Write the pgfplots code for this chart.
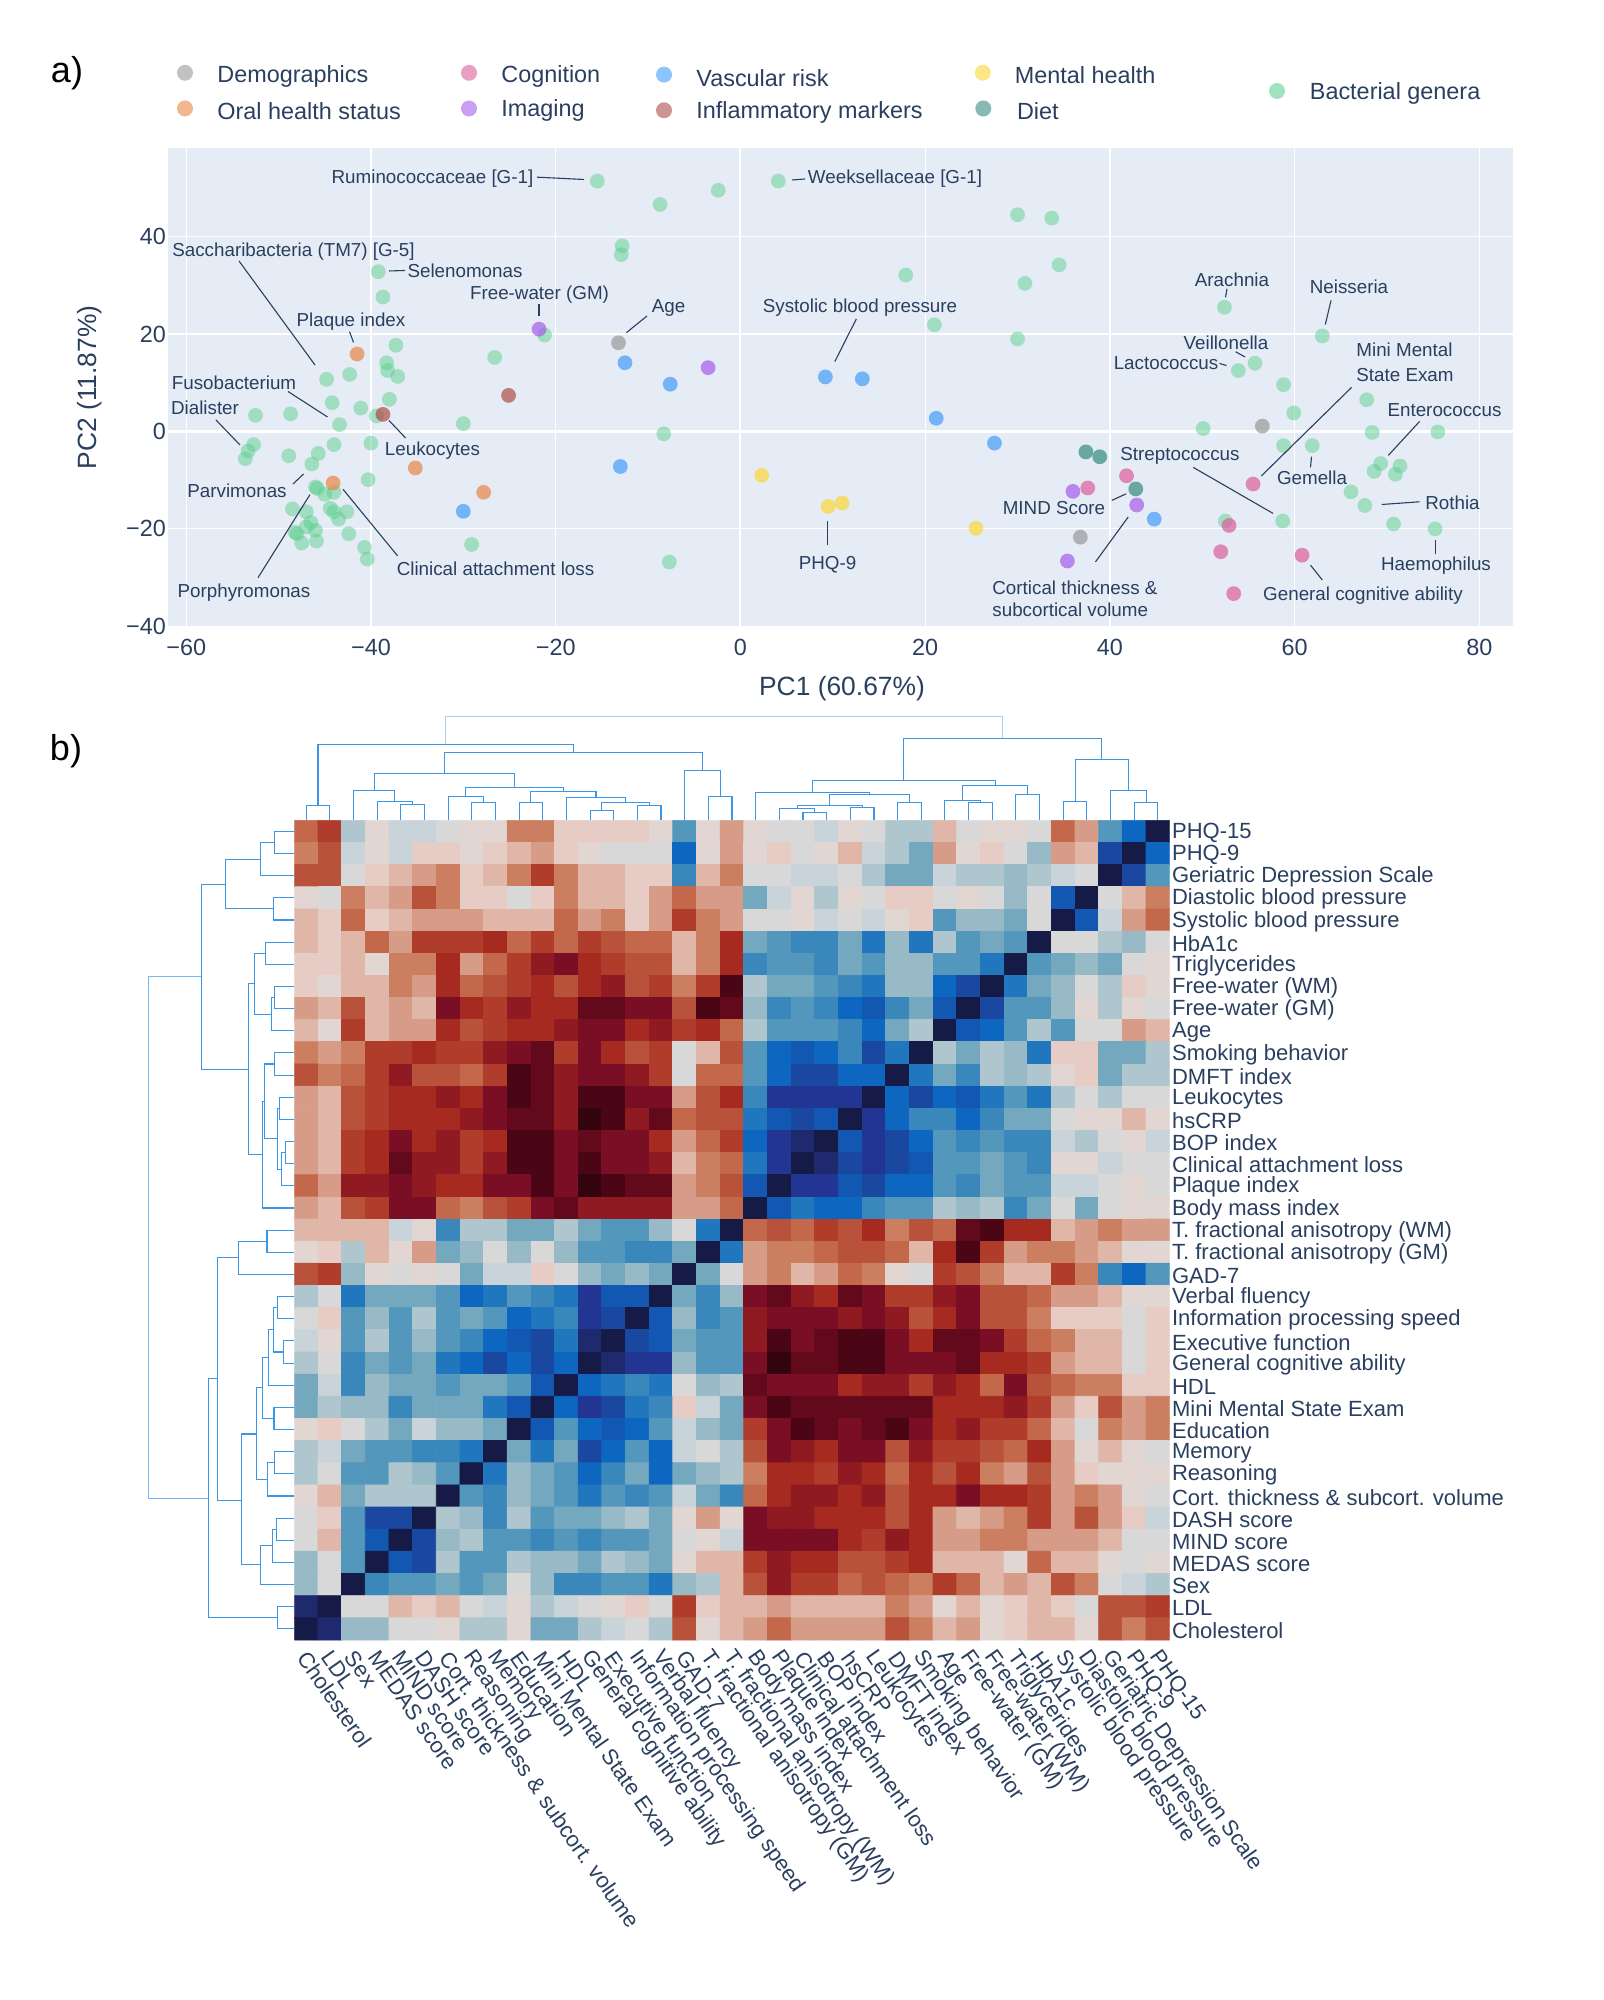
\documentclass[border=0pt]{standalone}
\usepackage{pgfplots}
\pgfplotsset{compat=1.18}
\usepackage{fontspec}
\setmainfont{Liberation Sans}

\definecolor{ink}{HTML}{2A3F5F}
\definecolor{plotbg}{HTML}{E5ECF6}
\definecolor{dendblue}{HTML}{3C96E8}
\definecolor{cGrey}{HTML}{999999}
\definecolor{cOral}{HTML}{E98647}
\definecolor{cCog}{HTML}{DD5D9D}
\definecolor{cImg}{HTML}{A65DEA}
\definecolor{cVasc}{HTML}{439DFB}
\definecolor{cInfl}{HTML}{AE4D48}
\definecolor{cMent}{HTML}{FBD636}
\definecolor{cDiet}{HTML}{358C7E}
\definecolor{cBact}{HTML}{5DD08E}

\newcommand\annofont{\fontsize{9.4}{11.5}\selectfont}
\newcommand\legfont{\fontsize{11.7}{14}\selectfont}
\newcommand\hmfont{\fontsize{11}{13}\selectfont}

% levels -14 (darkest red) .. 13 (navy, diagonal)
\pgfplotsset{colormap={bal}{
rgb255=(52,4,14) rgb255=(74,6,20) rgb255=(98,10,28) rgb255=(122,14,36)
rgb255=(144,26,34) rgb255=(166,42,32) rgb255=(176,60,44) rgb255=(185,82,58)
rgb255=(195,104,74) rgb255=(204,126,96) rgb255=(214,156,136) rgb255=(223,182,168)
rgb255=(230,204,196) rgb255=(226,214,210) rgb255=(216,216,216) rgb255=(200,212,217)
rgb255=(175,198,206) rgb255=(152,185,198) rgb255=(116,168,191) rgb255=(84,151,188)
rgb255=(58,135,187) rgb255=(33,119,189) rgb255=(13,102,191) rgb255=(18,88,179)
rgb255=(26,71,159) rgb255=(35,53,147) rgb255=(31,42,110) rgb255=(21,26,71)}}

\pgfplotsset{
  dend/.style={no marks, color=dendblue, line width=.55pt, forget plot},
  pts/.style={only marks, mark=*, mark size=3.7pt, forget plot,
    mark options={draw opacity=0, fill=#1, fill opacity=.7}},
  legpt/.style={only marks, mark=*, mark size=4pt, forget plot,
    mark options={draw opacity=0, fill=#1, fill opacity=.6}},
  leader/.style={no marks, color=ink, line width=.55pt, forget plot},
}
% top dendrogram: leg x, leg foot, bar height, leg x, leg foot
\newcommand\toplink[5]{\addplot[dend] coordinates {(#1,#2)(#1,#3)(#4,#3)(#4,#5)};}
% left dendrogram: foot x, row, bar x, row, foot x
\newcommand\leftlink[5]{\addplot[dend] coordinates {(#1,#2)(#3,#2)(#3,#4)(#5,#4)};}
\newcommand\lead[4]{\addplot[leader] coordinates {(#1,#2)(#3,#4)};}
\newcommand\ann[3]{\node[font=\annofont,text=ink,inner sep=0pt,yshift=-.8pt] at (axis cs:#1,#2) {#3};}
\newcommand\annl[3]{\node[font=\annofont,text=ink,inner sep=0pt,anchor=west,yshift=-.8pt] at (axis cs:#1,#2) {#3};}
\newcommand\legt[3]{\node[font=\legfont,text=ink,inner sep=0pt,anchor=west,yshift=-.6pt] at (axis cs:#1,#2) {#3};}

\begin{document}
\begin{tikzpicture}
\useasboundingbox (0,0) rectangle (801.5pt,1000pt);

% a) scatter
\begin{axis}[
  at={(84pt,686.85pt)}, anchor=south west, scale only axis,
  width=672.5pt, height=239.15pt,
  xmin=-61.97, xmax=83.64, ymin=-40, ymax=58.2,
  axis background/.style={fill=plotbg},
  axis line style={draw=none}, tick style={draw=none},
  grid=major, grid style={white, line width=.6pt},
  xtick={-60,-40,-20,0,20,40,60,80},
  xticklabels={−60,−40,−20,0,20,40,60,80},
  ytick={-40,-20,0,20,40},
  yticklabels={−40,−20,0,20,40},
  tick label style={font=\legfont, text=ink},
  xticklabel style={yshift=-3pt},
  yticklabel style={xshift=2.5pt},
  clip=false,
]
\addplot[white, line width=1.3pt, no marks, forget plot] coordinates {(-61.97,0)(83.64,0)};
\addplot[white, line width=1pt, no marks, forget plot] coordinates {(0,-40)(0,58.2)};
\addplot[only marks, mark=*, mark size=3.7pt, forget plot,
  mark options={draw opacity=0, fill=cBact, fill opacity=.5}] coordinates {
(-15.5,51.4)(-8.7,46.6)(-2.4,49.5)(4.1,51.4)(-12.8,38.1)(-12.9,36.3)(-39.2,32.8)(-38.7,27.6)
(-21.2,19.8)(-37.3,17.7)(-26.6,15.2)(-38.3,14.1)(-42.3,11.7)(-38.2,12.5)(-37.1,11.3)(-44.8,10.7)
(-38,6.6)(-44.2,5.9)(-41.1,4.8)(-39.4,3.2)(-52.5,3.3)(-48.7,3.6)(-30,1.6)(-43.4,1.4)(-8.3,-0.5)
(-44,-2.7)(-40,-2.4)(-52.7,-2.7)(-53.3,-4)(-53.6,-5.6)(-48.9,-5)(-45.7,-4.5)(-46.4,-6.7)
(-40.3,-9.9)(-46,-11.4)(-45.8,-11.7)(-45,-12.9)(-44,-12.5)(-48.5,-15.9)(-47,-16.5)(-44.4,-15.8)
(-44,-16.5)(-42.6,-16.5)(-43.5,-18)(-46.5,-18.7)(-47,-19.6)(-46,-20.3)(-48.2,-20.7)(-48,-21)
(-42.4,-21)(-47.5,-22.9)(-45.9,-22.5)(-40.7,-23.8)(-40.4,-26.2)(-29.1,-23.2)(-7.7,-26.8)
(30,44.5)(33.7,43.8)(34.5,34.2)(17.9,32.1)(30.8,30.4)(21,21.9)(30,19)(52.4,25.5)(63,19.6)
(55.7,14)(53.9,12.5)(58.8,9.6)(67.8,6.5)(59.9,3.8)(50.1,0.6)(68.4,-0.2)(75.5,-0.1)(58.8,-2.9)
(61.9,-2.9)(69.3,-6.6)(71.4,-7.1)(68.6,-8.2)(70.9,-8.8)(66.1,-12.4)(67.6,-15.2)(52.5,-18.4)
(58.7,-18.4)(70.7,-19)(75.2,-20)};
\addplot[pts=cGrey] coordinates {(-13.2,18.2)(56.5,1.1)(36.8,-21.7)};
\addplot[pts=cOral] coordinates {(-41.5,15.9)(-44.1,-10.6)(-35.2,-7.5)(-27.8,-12.5)};
\addplot[pts=cImg] coordinates {(-21.8,21)(-3.5,13.1)(36,-12.3)(42.9,-15.1)(35.4,-26.6)};
\addplot[pts=cVasc] coordinates {(-12.5,14.1)(-7.6,9.7)(-13,-7.2)(-30,-16.4)(9.2,11.2)(13.2,10.8)(21.2,2.7)(27.5,-2.4)(44.8,-18)};
\addplot[pts=cCog] coordinates {(41.8,-9.1)(37.6,-11.6)(55.5,-10.8)(52.9,-19.3)(52,-24.7)(60.8,-25.4)(53.4,-33.3)};
\addplot[pts=cMent] coordinates {(2.3,-9)(9.5,-15.4)(11,-14.7)(25.5,-19.9)};
\addplot[pts=cDiet] coordinates {(37.4,-4.2)(38.9,-5.2)(42.8,-11.8)};
\addplot[pts=cInfl] coordinates {(-38.7,3.5)(-25.1,7.4)};
\end{axis}

% b) heatmap
\begin{axis}[
  at={(147.15pt,180pt)}, anchor=south west, scale only axis,
  width=437.7pt, height=409.85pt,
  xmin=-.5, xmax=36.5, ymin=-.5, ymax=36.5, y dir=reverse,
  axis line style={draw=none}, tick style={draw=none},
  enlargelimits=false,
  xtick={0,...,36}, ytick={0,...,36},
  xticklabels={Cholesterol,LDL,Sex,MEDAS score,MIND score,DASH score,Cort. thickness \& subcort. volume,Reasoning,Memory,Education,Mini Mental State Exam,HDL,General cognitive ability,Executive function,Information processing speed,Verbal fluency,GAD-7,T. fractional anisotropy (GM),T. fractional anisotropy (WM),Body mass index,Plaque index,Clinical attachment loss,BOP index,hsCRP,Leukocytes,DMFT index,Smoking behavior,Age,Free-water (GM),Free-water (WM),Triglycerides,HbA1c,Systolic blood pressure,Diastolic blood pressure,Geriatric Depression Scale,PHQ-9,PHQ-15},
  yticklabels={PHQ-15,PHQ-9,Geriatric Depression Scale,Diastolic blood pressure,Systolic blood pressure,HbA1c,Triglycerides,Free-water (WM),Free-water (GM),Age,Smoking behavior,DMFT index,Leukocytes,hsCRP,BOP index,Clinical attachment loss,Plaque index,Body mass index,T. fractional anisotropy (WM),T. fractional anisotropy (GM),GAD-7,Verbal fluency,Information processing speed,Executive function,General cognitive ability,HDL,Mini Mental State Exam,Education,Memory,Reasoning,Cort. thickness \& subcort. volume,DASH score,MIND score,MEDAS score,Sex,LDL,Cholesterol},
  xticklabel pos=lower, yticklabel pos=right,
  tick label style={font=\hmfont, text=ink},
  xticklabel style={rotate=-55, anchor=west, inner sep=0pt, yshift=-5.3pt, xshift=4.4pt},
  yticklabel style={anchor=west, inner sep=0pt, xshift=1pt, yshift=-.7pt},
  colormap name=bal, point meta min=-14, point meta max=13,
]
\addplot[matrix plot*, mesh/cols=37, point meta=explicit]
  table[x expr={\coordindex-37*floor((\coordindex+0.5)/37)}, y expr={floor((\coordindex+0.5)/37)}, meta index=0, header=false, row sep=\\] {
-6\\-8\\2\\-1\\1\\1\\0\\-1\\-1\\-5\\-5\\-2\\-2\\-2\\-2\\-1\\5\\-1\\-4\\-1\\0\\0\\1\\-1\\0\\2\\2\\-3\\0\\-1\\-1\\0\\-6\\-4\\5\\8\\13\\
-5\\-7\\1\\-1\\1\\-2\\-2\\-1\\-2\\-3\\-4\\-2\\-1\\0\\0\\0\\8\\-1\\-4\\-1\\-2\\0\\-1\\-3\\1\\2\\4\\-4\\-1\\-2\\0\\3\\-4\\-3\\10\\13\\8\\
-7\\-7\\0\\-2\\-3\\-4\\-5\\-2\\-3\\-5\\-8\\-5\\-3\\-3\\-2\\-2\\6\\-3\\-5\\0\\0\\1\\1\\0\\2\\4\\4\\1\\2\\2\\3\\2\\1\\0\\13\\10\\5\\
-1\\0\\-5\\-3\\-4\\-7\\-5\\-2\\-2\\0\\-2\\-5\\-3\\-3\\-2\\-4\\-6\\-4\\-4\\4\\1\\-1\\2\\-1\\0\\-2\\-2\\0\\-1\\0\\3\\0\\9\\13\\0\\-3\\-5\\
-3\\-2\\-6\\-2\\-3\\-4\\-4\\-4\\-3\\-3\\-3\\-6\\-4\\-5\\-2\\-4\\-8\\-5\\-4\\0\\0\\-1\\1\\0\\1\\-1\\-2\\5\\3\\3\\4\\0\\13\\9\\1\\-4\\-6\\
-3\\-2\\-3\\-6\\-4\\-8\\-8\\-8\\-9\\-6\\-8\\-6\\-8\\-7\\-6\\-6\\-3\\-5\\-9\\4\\5\\6\\6\\4\\7\\3\\7\\2\\5\\4\\5\\13\\0\\0\\2\\3\\0\\
-2\\-2\\-3\\-1\\-5\\-5\\-9\\-4\\-6\\-8\\-10\\-11\\-9\\-8\\-7\\-7\\-3\\-5\\-9\\6\\5\\5\\6\\4\\5\\3\\3\\5\\5\\7\\13\\5\\4\\3\\4\\0\\-1\\
-2\\-1\\-3\\-3\\-5\\-4\\-9\\-6\\-7\\-8\\-9\\-7\\-9\\-10\\-7\\-8\\-5\\-8\\-13\\2\\4\\4\\5\\6\\7\\3\\3\\8\\10\\13\\7\\4\\3\\0\\2\\-2\\-1\\
-4\\-3\\-7\\-3\\-4\\-3\\-11\\-9\\-8\\-10\\-9\\-9\\-12\\-12\\-11\\-11\\-7\\-13\\-12\\3\\6\\5\\6\\8\\9\\6\\4\\9\\13\\10\\5\\5\\3\\-1\\2\\-1\\0\\
-3\\-1\\-8\\-3\\-4\\-4\\-9\\-7\\-8\\-9\\-9\\-10\\-11\\-11\\-9\\-10\\-8\\-9\\-6\\2\\5\\5\\5\\6\\8\\4\\2\\13\\9\\8\\5\\2\\5\\0\\0\\-4\\-3\\
-5\\-4\\-5\\-8\\-8\\-9\\-8\\-8\\-10\\-11\\-12\\-8\\-11\\-9\\-7\\-8\\0\\-3\\-7\\5\\8\\9\\8\\6\\10\\7\\13\\2\\4\\2\\3\\7\\-2\\-2\\4\\4\\2\\
-7\\-5\\-6\\-8\\-10\\-7\\-7\\-6\\-8\\-13\\-12\\-10\\-11\\-11\\-10\\-8\\0\\-6\\-6\\5\\8\\10\\10\\8\\8\\13\\7\\4\\6\\2\\3\\2\\-1\\-2\\4\\2\\2\\
-4\\-3\\-7\\-8\\-9\\-9\\-10\\-9\\-11\\-13\\-12\\-10\\-13\\-13\\-11\\-11\\-4\\-7\\-9\\6\\11\\11\\11\\11\\13\\8\\10\\8\\9\\7\\5\\7\\2\\0\\2\\0\\0\\
-4\\-3\\-7\\-8\\-9\\-9\\-9\\-10\\-11\\-12\\-12\\-10\\-14\\-13\\-10\\-12\\-6\\-7\\-7\\7\\9\\10\\9\\13\\11\\8\\6\\6\\8\\6\\4\\4\\0\\-1\\-1\\-3\\-1\\
-4\\-3\\-8\\-9\\-11\\-9\\-10\\-8\\-9\\-13\\-13\\-11\\-12\\-11\\-11\\-9\\-4\\-6\\-8\\8\\11\\12\\13\\9\\11\\10\\8\\5\\6\\5\\6\\6\\1\\2\\0\\-1\\1\\
-4\\-3\\-8\\-9\\-12\\-10\\-10\\-8\\-10\\-13\\-13\\-11\\-13\\-11\\-11\\-10\\-3\\-5\\-6\\7\\11\\13\\12\\10\\11\\10\\9\\5\\5\\4\\5\\6\\-1\\-1\\1\\0\\0\\
-6\\-4\\-10\\-10\\-11\\-10\\-9\\-9\\-11\\-11\\-13\\-11\\-14\\-13\\-12\\-12\\-4\\-5\\-7\\9\\13\\11\\11\\9\\10\\8\\8\\5\\6\\4\\5\\5\\1\\1\\0\\-1\\0\\
-4\\-3\\-7\\-8\\-11\\-11\\-6\\-5\\-7\\-8\\-11\\-12\\-10\\-10\\-10\\-10\\-4\\-4\\-6\\13\\9\\7\\8\\8\\6\\5\\5\\2\\3\\2\\6\\4\\0\\4\\0\\-1\\-1\\
-3\\-3\\-3\\-3\\1\\-1\\6\\2\\2\\4\\4\\2\\4\\5\\5\\3\\0\\7\\13\\-6\\-7\\-6\\-8\\-7\\-9\\-5\\-7\\-6\\-12\\-13\\-9\\-9\\-3\\-4\\-5\\-4\\-4\\
-1\\-2\\2\\-3\\-1\\-4\\4\\3\\0\\3\\0\\3\\5\\5\\6\\6\\4\\13\\7\\-4\\-5\\-5\\-6\\-7\\-7\\-6\\-3\\-9\\-13\\-8\\-4\\-5\\-5\\-4\\-3\\-1\\-1\\
-7\\-8\\3\\-1\\0\\-1\\0\\4\\1\\1\\-2\\0\\3\\4\\3\\4\\13\\4\\0\\-4\\-5\\-3\\-4\\-6\\-5\\-1\\0\\-8\\-7\\-5\\-3\\-3\\-8\\-5\\6\\8\\5\\
2\\0\\7\\4\\4\\4\\5\\8\\7\\5\\6\\7\\11\\9\\9\\13\\4\\6\\3\\-11\\-12\\-10\\-9\\-12\\-11\\-8\\-8\\-10\\-11\\-7\\-7\\-6\\-4\\-4\\-3\\-1\\-1\\
0\\-2\\5\\3\\5\\2\\5\\4\\5\\8\\7\\6\\11\\10\\13\\9\\3\\6\\5\\-10\\-11\\-11\\-11\\-10\\-11\\-10\\-7\\-9\\-11\\-7\\-7\\-5\\-2\\-2\\-2\\0\\-2\\
1\\-1\\5\\2\\5\\3\\5\\6\\8\\9\\10\\7\\12\\13\\10\\9\\4\\5\\5\\-10\\-13\\-11\\-12\\-13\\-13\\-11\\-9\\-12\\-12\\-11\\-8\\-6\\-5\\-3\\-3\\0\\-2\\
2\\0\\6\\4\\5\\4\\7\\8\\10\\8\\10\\8\\13\\12\\11\\11\\3\\5\\5\\-11\\-14\\-12\\-12\\-13\\-13\\-11\\-11\\-11\\-12\\-9\\-9\\-8\\-4\\-3\\-3\\0\\-2\\
4\\1\\6\\3\\4\\4\\5\\4\\4\\5\\9\\13\\8\\7\\6\\7\\0\\3\\2\\-12\\-11\\-11\\-11\\-9\\-10\\-10\\-8\\-10\\-9\\-6\\-11\\-7\\-6\\-5\\-5\\-2\\-2\\
4\\2\\3\\3\\6\\4\\4\\4\\7\\9\\13\\8\\11\\10\\7\\6\\-2\\1\\4\\-11\\-13\\-12\\-12\\-12\\-12\\-12\\-12\\-9\\-9\\-9\\-10\\-8\\-4\\-2\\-7\\-4\\-5\\
-1\\-2\\0\\2\\4\\1\\3\\3\\4\\13\\9\\5\\8\\9\\8\\5\\1\\3\\4\\-8\\-11\\-13\\-12\\-11\\-12\\-13\\-11\\-9\\-10\\-8\\-8\\-6\\-3\\0\\-5\\-4\\-5\\
2\\1\\4\\5\\5\\6\\6\\7\\13\\4\\7\\4\\10\\8\\5\\8\\1\\0\\2\\-7\\-11\\-10\\-9\\-11\\-11\\-7\\-10\\-8\\-8\\-7\\-6\\-9\\-4\\-1\\-3\\-1\\0\\
2\\0\\5\\5\\2\\3\\5\\13\\7\\3\\4\\5\\8\\6\\4\\8\\4\\3\\2\\-5\\-9\\-9\\-8\\-10\\-9\\-6\\-9\\-7\\-9\\-5\\-4\\-7\\-4\\-2\\-1\\-1\\-1\\
-1\\-3\\4\\2\\2\\2\\13\\5\\6\\3\\4\\5\\7\\5\\6\\5\\1\\4\\6\\-6\\-9\\-10\\-10\\-9\\-10\\-7\\-9\\-9\\-11\\-9\\-9\\-8\\-4\\-5\\-4\\-1\\0\\
0\\-2\\5\\10\\10\\13\\2\\3\\6\\2\\5\\4\\4\\3\\2\\4\\-1\\-4\\-1\\-11\\-10\\-10\\-9\\-9\\-9\\-7\\-9\\-4\\-3\\-4\\-5\\-8\\-4\\-7\\-4\\-2\\1\\
0\\-3\\5\\9\\13\\10\\3\\2\\5\\5\\6\\5\\6\\5\\5\\4\\0\\-1\\1\\-11\\-11\\-11\\-11\\-9\\-8\\-10\\-9\\-4\\-4\\-5\\-5\\-4\\-4\\-4\\-3\\0\\0\\
3\\0\\5\\13\\9\\10\\2\\5\\5\\2\\3\\3\\4\\2\\3\\4\\-1\\-3\\-3\\-8\\-10\\-9\\-9\\-7\\-7\\-8\\-9\\-3\\-3\\-3\\-1\\-6\\-3\\-3\\-1\\0\\-1\\
3\\0\\13\\6\\5\\5\\4\\5\\4\\0\\3\\6\\6\\5\\5\\7\\3\\2\\-3\\-7\\-10\\-8\\-8\\-6\\-7\\-6\\-5\\-8\\-6\\-3\\-4\\-3\\-7\\-5\\0\\1\\2\\
12\\13\\0\\0\\-3\\-2\\-3\\0\\1\\-1\\2\\1\\0\\-1\\-2\\0\\-8\\-2\\-3\\-3\\-4\\-3\\-3\\-3\\-3\\-5\\-4\\-1\\-3\\-1\\-2\\-3\\-2\\0\\-7\\-7\\-8\\
13\\12\\3\\3\\0\\0\\-1\\2\\2\\-1\\4\\4\\2\\1\\0\\2\\-7\\-1\\-3\\-4\\-6\\-4\\-4\\-4\\-4\\-7\\-5\\-3\\-4\\-1\\-2\\-3\\-3\\-1\\-7\\-5\\-7\\
};
\end{axis}

% top dendrogram
\begin{axis}[
  at={(147.15pt,589.85pt)}, anchor=south west, scale only axis,
  width=437.7pt, height=60.15pt, hide axis,
  xmin=-.5, xmax=36.5, ymin=0, ymax=360, y dir=reverse, clip=false,
]
\toplink{0}{360}{316}{1}{360}
\toplink{4}{360}{313}{5}{360}
\toplink{3}{360}{304}{4.5}{313}
\toplink{2}{360}{272}{3.75}{304}
\toplink{7}{360}{307}{8}{360}
\toplink{6}{360}{289}{7.5}{307}
\toplink{9}{360}{307}{10}{360}
\toplink{12}{360}{332}{13}{360}
\toplink{14}{360}{316}{15}{360}
\toplink{12.5}{332}{307}{14.5}{316}
\toplink{11}{360}{293}{13.5}{307}
\toplink{9.5}{307}{275}{12.25}{293}
\toplink{6.75}{289}{262}{10.875}{275}
\toplink{2.875}{272}{220}{8.81}{262}
\toplink{17}{360}{288}{18}{360}
\toplink{16}{360}{212}{17.5}{288}
\toplink{5.84}{220}{157}{16.75}{212}
\toplink{0.5}{316}{133}{11.3}{157}
\toplink{21}{360}{337}{22}{360}
\toplink{20}{360}{326}{21.5}{337}
\toplink{23}{360}{322}{24}{360}
\toplink{20.75}{326}{316}{23.5}{322}
\toplink{25}{360}{308}{26}{360}
\toplink{22.13}{316}{282}{25.5}{308}
\toplink{19}{360}{277}{23.81}{282}
\toplink{28}{360}{307}{29}{360}
\toplink{27}{360}{300}{28.5}{307}
\toplink{30}{360}{284}{31}{360}
\toplink{27.75}{300}{256}{30.5}{284}
\toplink{21.4}{277}{240}{29.13}{256}
\toplink{32}{360}{305}{33}{360}
\toplink{35}{360}{308}{36}{360}
\toplink{34}{360}{271}{35.5}{308}
\toplink{32.5}{305}{178}{34.75}{271}
\toplink{25.26}{240}{115}{33.63}{178}
\addplot[dend, color=dendblue!45] coordinates {(5.9,133)(5.9,50)(29.44,50)(29.44,115)};
\end{axis}

% left dendrogram
\begin{axis}[
  at={(65pt,180pt)}, anchor=south west, scale only axis,
  width=82.15pt, height=409.85pt, hide axis,
  xmin=0, xmax=493, ymin=-.5, ymax=36.5, y dir=reverse, clip=false,
]
\leftlink{493}{0}{433}{1}{493}
\leftlink{433}{0.5}{391}{2}{493}
\leftlink{493}{3}{431}{4}{493}
\leftlink{391}{1.25}{286}{3.5}{431}
\leftlink{493}{5}{406}{6}{493}
\leftlink{493}{7}{434}{8}{493}
\leftlink{434}{7.5}{424}{9}{493}
\leftlink{406}{5.5}{374}{8.25}{424}
\leftlink{493}{10}{433}{11}{493}
\leftlink{493}{12}{449}{13}{493}
\leftlink{493}{14}{466}{15}{493}
\leftlink{466}{14.5}{455}{16}{493}
\leftlink{449}{12.5}{443}{15.25}{455}
\leftlink{433}{10.5}{403}{13.88}{443}
\leftlink{403}{12.19}{398}{17}{493}
\leftlink{374}{6.88}{356}{14.6}{398}
\leftlink{286}{2.38}{214}{10.74}{356}
\leftlink{493}{18}{411}{19}{493}
\leftlink{411}{18.5}{326}{20}{493}
\leftlink{493}{21}{442}{22}{493}
\leftlink{493}{23}{461}{24}{493}
\leftlink{442}{21.5}{431}{23.5}{461}
\leftlink{431}{22.5}{416}{25}{493}
\leftlink{493}{26}{432}{27}{493}
\leftlink{416}{23.75}{397}{26.5}{432}
\leftlink{493}{28}{433}{29}{493}
\leftlink{433}{28.5}{412}{30}{493}
\leftlink{397}{25.1}{380}{29.25}{412}
\leftlink{493}{31}{439}{32}{493}
\leftlink{439}{31.5}{428}{33}{493}
\leftlink{428}{32.25}{392}{34}{493}
\leftlink{380}{27.2}{334}{33.1}{392}
\leftlink{326}{19.25}{262}{30.2}{334}
\leftlink{493}{35}{443}{36}{493}
\leftlink{262}{24.7}{235}{35.5}{443}
\addplot[dend, color=dendblue!70] coordinates {(214,6.56)(55,6.56)(55,30.1)(235,30.1)};
\end{axis}

% page overlay in image pixels: legend, leaders, annotations, panel tags
\begin{axis}[
  at={(0pt,0pt)}, anchor=south west, scale only axis,
  width=801.5pt, height=1000pt, hide axis,
  xmin=0, xmax=1603, ymin=0, ymax=2000, y dir=reverse, clip=false,
]
\addplot[legpt=cGrey] coordinates {(185,72.8)};
\addplot[legpt=cOral] coordinates {(185,108.5)};
\addplot[legpt=cCog] coordinates {(469,72.8)};
\addplot[legpt=cImg] coordinates {(469,108.5)};
\addplot[legpt=cVasc] coordinates {(664,74.6)};
\addplot[legpt=cInfl] coordinates {(664,110.3)};
\addplot[legpt=cMent] coordinates {(982.8,72.8)};
\addplot[legpt=cDiet] coordinates {(983.3,108.5)};
\addplot[legpt=cBact] coordinates {(1277,91)};
\legt{217}{75}{Demographics}
\legt{217}{109.5}{Oral health status}
\legt{501}{75}{Cognition}
\legt{501}{109.5}{Imaging}
\legt{696}{76.8}{Vascular risk}
\legt{696}{111.7}{Inflammatory markers}
\legt{1014.5}{74}{Mental health}
\legt{1016.6}{109.5}{Diet}
\legt{1309.5}{92.4}{Bacterial genera}

\lead{537}{177.2}{584}{179.5}
\lead{239}{261}{315}{365}
\lead{389}{271}{405}{270.5}
\lead{539}{304.5}{539}{316}
\lead{626.5}{332.6}{647}{316}
\lead{349.5}{331.7}{353.5}{342.4}
\lead{288}{391.5}{327.5}{417}
\lead{216}{420}{240}{445}
\lead{389}{420.5}{405.6}{438}
\lead{293}{484}{303.6}{474}
\lead{258}{577.7}{310}{494.6}
\lead{343}{489.3}{397.5}{555.8}
\lead{856.3}{319}{834.8}{361.6}
\lead{792}{180}{805}{179}
\lead{827.6}{521}{827.6}{544.6}
\lead{1193.2}{467.4}{1273}{513.4}
\lead{1111.8}{500.4}{1126.2}{493.8}
\lead{1128.2}{517}{1095.4}{562}
\lead{1322.3}{580}{1310.5}{565.2}
\lead{1227}{288.8}{1225.5}{297.3}
\lead{1331}{300.4}{1325.3}{324.6}
\lead{1235.7}{351.8}{1245}{357}
\lead{1219.4}{363.4}{1226.5}{365.6}
\lead{1351.5}{387.5}{1261.3}{476}
\lead{1419.6}{421.4}{1388.3}{455.4}
\lead{1311.5}{456.7}{1310.5}{467.4}
\lead{1419.6}{501.8}{1381.7}{504.5}
\lead{1435.4}{540.2}{1435.4}{554.5}

\ann{432.5}{176.8}{Ruminococcaceae [G-1]}
\ann{293.5}{249.6}{Saccharibacteria (TM7) [G-5]}
\ann{465}{269.5}{Selenomonas}
\ann{539.5}{293}{Free-water (GM)}
\ann{668.5}{306}{Age}
\ann{351}{320}{Plaque index}
\ann{234}{380.8}{Fusobacterium}
\ann{205}{406}{Dialister}
\ann{432.5}{449}{Leukocytes}
\ann{237}{489}{Parvimonas}
\ann{244}{590.6}{Porphyromonas}
\ann{495.5}{567.5}{Clinical attachment loss}
\ann{860}{305.8}{Systolic blood pressure}
\ann{895}{176.8}{Weeksellaceae [G-1]}
\ann{827.5}{563}{PHQ-9}
\ann{1180}{454.5}{Streptococcus}
\ann{1054}{506.7}{MIND Score}
\annl{992}{586}{Cortical thickness \&}
\annl{992}{608.5}{subcortical volume}
\ann{1363}{594.2}{General cognitive ability}
\ann{1232}{278}{Arachnia}
\ann{1349}{285.5}{Neisseria}
\ann{1226}{341}{Veillonella}
\ann{1166}{361.5}{Lactococcus}
\annl{1356}{348}{Mini Mental}
\annl{1356}{373}{State Exam}
\ann{1444.5}{409}{Enterococcus}
\ann{1312}{476}{Gemella}
\ann{1452.5}{501}{Rothia}
\ann{1436}{564}{Haemophilus}

\node[font=\fontsize{13.2}{16}\selectfont,text=ink,inner sep=0pt] at (axis cs:842,688.5) {PC1 (60.67\%)};
\node[font=\fontsize{13.2}{16}\selectfont,text=ink,inner sep=0pt,rotate=90] at (axis cs:90,387.5) {PC2 (11.87\%)};
\node[font=\fontsize{18}{22}\selectfont,text=black,inner sep=0pt] at (axis cs:67,73) {a)};
\node[font=\fontsize{18}{22}\selectfont,text=black,inner sep=0pt] at (axis cs:66,750.7) {b)};
\end{axis}
\end{tikzpicture}
\end{document}
